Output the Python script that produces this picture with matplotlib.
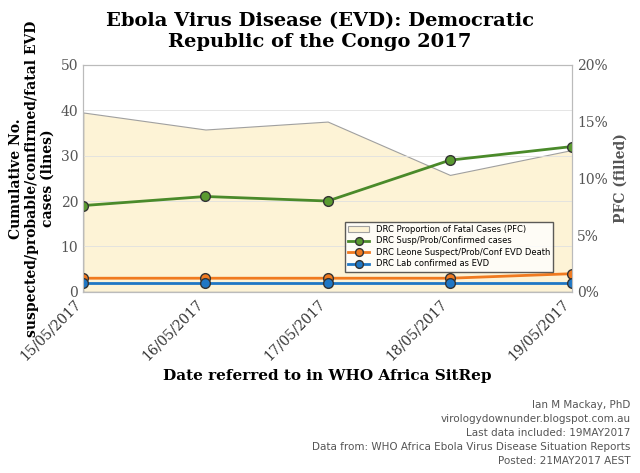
import matplotlib
matplotlib.use("Agg")
import matplotlib.pyplot as plt

dates = ["15/05/2017", "16/05/2017", "17/05/2017", "18/05/2017", "19/05/2017"]
pfc = [15.8, 14.3, 15.0, 10.3, 12.5]
susp = [19, 21, 20, 29, 32]
deaths = [3, 3, 3, 3, 4]
lab = [2, 2, 2, 2, 2]

plt.rcParams["font.family"] = "DejaVu Serif"
fig = plt.figure(figsize=(6.4, 4.73), dpi=100)
ax = fig.add_axes([0.13, 0.383, 0.764, 0.48])
ax2 = ax.twinx()
x = range(len(dates))

ax2.fill_between(x, pfc, 0, color="#fdf3d6", edgecolor="#a0a0a0", linewidth=0.8, label="DRC Proportion of Fatal Cases (PFC)")
ax2.set_ylim(0, 20)
ax2.set_yticks(range(0, 21, 5))
ax2.set_yticklabels([f"{v}%" for v in range(0, 21, 5)])
ax.set_zorder(ax2.get_zorder() + 1)
ax.patch.set_visible(False)

l1, = ax.plot(x, susp, color="#4a8a2a", lw=2, marker="o", ms=7, mfc="#5a9a30", mec="#333333", label="DRC Susp/Prob/Confirmed cases")
l2, = ax.plot(x, deaths, color="#f07a20", lw=2, marker="o", ms=7, mfc="#f07a20", mec="#333333", label="DRC Leone Suspect/Prob/Conf EVD Death")
l3, = ax.plot(x, lab, color="#1f77c4", lw=2, marker="o", ms=7, mfc="#1f77c4", mec="#333333", label="DRC Lab confirmed as EVD")

ax.set_ylim(0, 50)
ax.set_xlim(0, 4)
ax.set_xticks(list(x))
ax.set_xticklabels(dates, rotation=45, ha="right", fontsize=9)
ax.yaxis.grid(True, color="#e0e0e0", lw=0.6)
for a in (ax, ax2):
    a.tick_params(colors="#555555", labelsize=10, length=0)
    for s in a.spines.values():
        s.set_color("#bbbbbb")
ax.tick_params(axis="x", colors="#333333")

ax.set_ylabel("Cumulative No.\nsuspected/probable/confirmed/fatal EVD\ncases (lines)", fontweight="bold", fontsize=10)
ax2.set_ylabel("PFC (filled)", fontweight="bold", fontsize=10, color="#555555")
ax.set_xlabel("Date referred to in WHO Africa SitRep", fontweight="bold", fontsize=11)

h2, lb2 = ax2.get_legend_handles_labels()
leg = ax.legend(h2 + [l1, l2, l3], lb2 + [l1.get_label(), l2.get_label(), l3.get_label()],
                loc="lower right", bbox_to_anchor=(0.97, 0.07), fontsize=6, frameon=True, markerscale=0.8,
                prop={"family": "DejaVu Sans", "size": 6},
                fancybox=False, edgecolor="#333333", borderpad=0.4, labelspacing=0.3, handlelength=2.5)

fig.text(0.5, 0.975, "Ebola Virus Disease (EVD): Democratic\nRepublic of the Congo 2017", ha="center", va="top",
         fontweight="bold", fontsize=14)
fig.text(0.985, 0.015, "Ian M Mackay, PhD\nvirologydownunder.blogspot.com.au\nLast data included: 19MAY2017\nData from: WHO Africa Ebola Virus Disease Situation Reports\nPosted: 21MAY2017 AEST",
         ha="right", va="bottom", fontsize=7.5, color="#555555", linespacing=1.5, family="DejaVu Sans")
fig.savefig("out.png", dpi=100, facecolor="white")
